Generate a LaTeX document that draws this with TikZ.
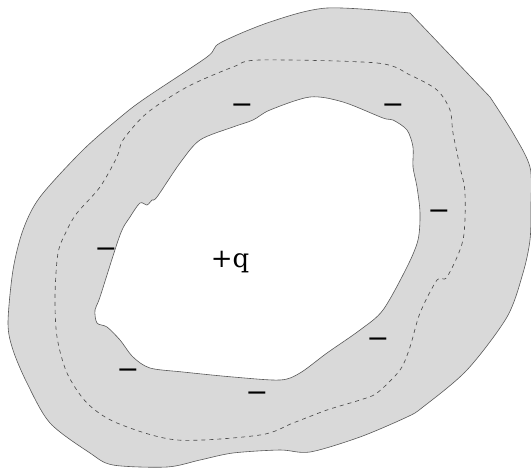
\documentclass[tikz,border=0pt]{standalone}
\usepackage{fontspec}
\newfontfamily\dvserif{DejaVu Serif}
\begin{document}
\begin{tikzpicture}[x=1pt,y=-1pt,
  minus/.style={font=\dvserif\fontsize{27}{27}\selectfont, inner sep=0pt, yshift=-4pt},
  ring/.style={fill=gray!30, draw=black!65, line width=0.6pt, even odd rule},
  guide/.style={draw=black!70, dashed, dash pattern=on 4pt off 4pt, line width=0.65pt}]
\useasboundingbox (0,0) rectangle (531,472);
\path[ring]
  (410,13) -- plot[smooth, tension=0.5] coordinates {
  (490,97) (513,133) (530,167) (531,205) (530,240) (523,273) (507,317)
  (467,370) (423,407) (407,417) (360,437) (310,452) (280,450) (233,453) (200,460)
  (167,467) (113,465) (90,453) (50,423) (27,383) (13,350) (8,323) (13,270) (23,230)
  (40,197) (83,150) (123,115) (147,97) (207,57) (220,43) (270,22) (327,8) (410,13)} -- cycle
  plot[smooth cycle, tension=0.5] coordinates {
  (310,97) (343,102) (383,118) (393,120) (407,130) (413,147) (413,167) (417,187)
  (420,213) (418,240) (407,267) (383,310) (360,330) (327,353) (300,373) (280,380)
  (233,377) (183,372) (150,368) (133,357) (120,340) (107,327) (97,323) (95,310)
  (100,297) (120,235) (130,217) (140,203) (147,205) (152,200) (157,197) (180,163) (200,140)
  (233,127) (253,120) (270,110)};
\draw[guide] plot[smooth cycle, tension=0.5] coordinates {
  (260,60) (377,63) (410,75) (437,90) (450,110) (453,133) (460,167) (465,193)
  (463,240) (447,277) (437,280) (420,313) (410,347) (400,370) (377,393) (360,400)
  (327,410) (293,423) (260,435) (177,440) (117,423) (87,403) (67,373) (57,337)
  (55,297) (58,253) (67,230) (77,213) (100,187) (117,157) (123,140) (147,113)
  (187,87) (233,67)};
\node[font=\dvserif\fontsize{26}{26}\selectfont, inner sep=0pt] (q) at (230,262) {+q};
\node[minus] (m1) at (242,105) {−};
\node[minus] (m2) at (393,105) {−};
\node[minus] (m3) at (439,211) {−};
\node[minus] (m4) at (106,249) {−};
\node[minus] (m5) at (378,339) {−};
\node[minus] (m6) at (128,370) {−};
\node[minus] (m7) at (257,393) {−};
\end{tikzpicture}
\end{document}
